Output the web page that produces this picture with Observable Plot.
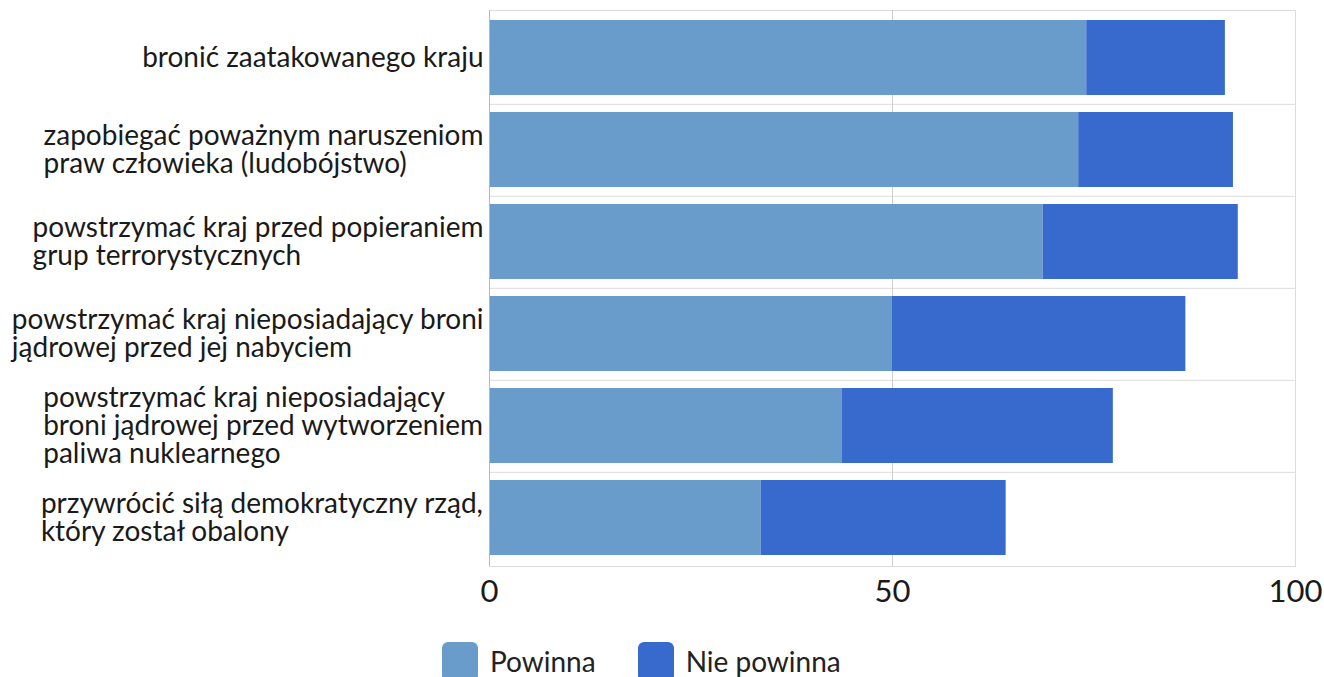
<!DOCTYPE html>
<html>
<head>
<meta charset="utf-8">
<script src="https://cdn.jsdelivr.net/npm/d3@7"></script>
<script src="https://cdn.jsdelivr.net/npm/@observablehq/plot@0.6"></script>
<style>
  html, body { margin: 0; padding: 0; background: #fff; overflow: hidden; }
  body { width: 1324px; height: 677px; font-family: Lato, "Noto Sans", sans-serif; }
  #legend { position: absolute; left: 442px; top: 642px; display: flex; gap: 0; font-family: Lato, sans-serif; font-size: 28px; color: #222; }
  .item { display: flex; align-items: flex-start; margin-right: 42px; }
  .sw { width: 36px; height: 40px; border-radius: 6px; margin-right: 12px; }
  .lbl { line-height: 38px; }
</style>
</head>
<body>
<div id="chart"></div>
<div id="legend"></div>
<script>
const categories = [
  "bronić zaatakowanego kraju",
  "zapobiegać poważnym naruszeniom\npraw człowieka (ludobójstwo)",
  "powstrzymać kraj przed popieraniem\ngrup terrorystycznych",
  "powstrzymać kraj nieposiadający broni\njądrowej przed jej nabyciem",
  "powstrzymać kraj nieposiadający\nbroni jądrowej przed wytworzeniem\npaliwa nuklearnego",
  "przywrócić siłą demokratyczny rząd,\nktóry został obalony"
];
const seriesNames = ["Powinna", "Nie powinna"];
const powinna = [74.1, 73.1, 68.7, 50.0, 43.8, 33.7];
const niePowinna = [17.2, 19.2, 24.2, 36.4, 33.6, 30.4];
const xTicks = [0, 50, 100];
const colors = ["#6a9ccb", "#3869cd"];

const data = [];
categories.forEach((c, i) => {
  data.push({cat: c, series: seriesNames[0], value: powinna[i]});
  data.push({cat: c, series: seriesNames[1], value: niePowinna[i]});
});

const W = 1324, H = 630, mTop = 10, mBottom = 64, mLeft = 489, mRight = 29;
const step = (H - mTop - mBottom) / categories.length;

const chart = Plot.plot({
  width: W,
  height: H,
  marginTop: mTop,
  marginBottom: mBottom,
  marginLeft: mLeft,
  marginRight: mRight,
  style: {fontFamily: "Lato, sans-serif", background: "#fff"},
  x: {domain: [0, 100]},
  y: {domain: categories, paddingInner: 0.18, paddingOuter: 0.09},
  color: {domain: seriesNames, range: colors},
  marks: [
    Plot.frame({stroke: "#dcdcdc"}),
    Plot.ruleY(categories.slice(0, -1), {y: d => d, stroke: "#dcdcdc", dy: step / 2}),
    Plot.ruleX([50], {stroke: "#d0d0d0"}),
    Plot.barX(data, Plot.stackX({y: "cat", x: "value", fill: "series", order: seriesNames})),
    Plot.ruleX([0], {stroke: "#b8b8b8"}),
    Plot.axisY({tickSize: 0, tickPadding: 6, fontSize: 28, lineHeight: 1.0, fill: "#1a1a1a", label: null}),
    Plot.axisX({ticks: xTicks, tickSize: 0, tickPadding: 13, fontSize: 31, fill: "#1a1a1a", label: null})
  ]
});
document.getElementById("chart").appendChild(chart);

// left-align lines within each y-axis label block (block stays right-aligned)
const texts = chart.querySelectorAll('g[aria-label="y-axis tick label"] text');
texts.forEach(t => {
  const w = t.getBBox().width;
  t.setAttribute("text-anchor", "start");
  const tspans = t.querySelectorAll("tspan");
  if (tspans.length) tspans.forEach(s => s.setAttribute("x", -w));
  else t.setAttribute("x", -w);
});

const legend = document.getElementById("legend");
seriesNames.forEach((s, i) => {
  const it = document.createElement("div");
  it.className = "item";
  it.innerHTML = `<div class="sw" style="background:${colors[i]}"></div><div class="lbl">${s}</div>`;
  legend.appendChild(it);
});
</script>
</body>
</html>
